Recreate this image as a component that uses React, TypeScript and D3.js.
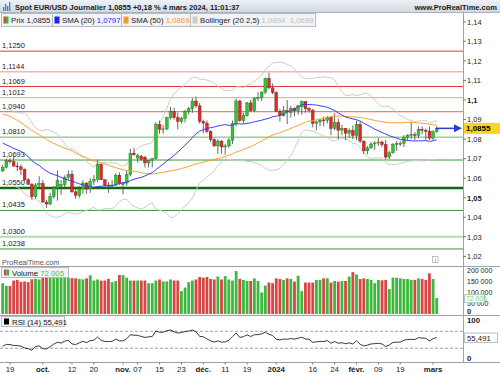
import React, { useEffect, useRef } from "react";
import * as d3 from "d3";

// closes before the first visible candle (needed for SMA / Bollinger / RSI)
const priorCloses = [
  1.0970, 1.1010, 1.1130, 1.1225, 1.1230, 1.1235, 1.1225, 1.1200, 1.1130, 1.1125,
  1.1065, 1.1055, 1.1085, 1.0975, 1.1015, 1.0995, 1.0985, 1.0935, 1.0945, 1.1005,
  1.1000, 1.0955, 1.0975, 1.0980, 1.0945, 1.0905, 1.0905, 1.0875, 1.0870, 1.0870,
  1.0895, 1.0845, 1.0860, 1.0810, 1.0795, 1.0815, 1.0880, 1.0925, 1.0845, 1.0775,
  1.0795, 1.0720, 1.0725, 1.0695, 1.0700, 1.0750, 1.0755, 1.0730, 1.0640,
];

const opens = [
  1.0637, 1.0656, 1.0690, 1.0684, 1.0662, 1.0658, 1.0645, 1.0592, 1.0568, 1.0505,
  1.0565, 1.0573, 1.0478, 1.0468, 1.0505, 1.0550, 1.0560, 1.0567, 1.0605, 1.0620,
  1.0530, 1.0512, 1.0545, 1.0575, 1.0545, 1.0585, 1.0594, 1.0670, 1.0592, 1.0565,
  1.0560, 1.0565, 1.0615, 1.0568, 1.0575, 1.0620, 1.0728, 1.0703, 1.0712, 1.0707,
  1.0678, 1.0692, 1.0700, 1.0875, 1.0850, 1.0852, 1.0910, 1.0940, 1.0910, 1.0890,
  1.0905, 1.0940, 1.0955, 1.0995, 1.0970, 1.0890, 1.0882, 1.0840, 1.0797, 1.0765,
  1.0790, 1.0760, 1.0765, 1.0795, 1.0880, 1.0995, 1.0895, 1.0920, 1.0985, 1.0945,
  1.1008, 1.1012, 1.1040, 1.1110, 1.1062, 1.1038, 1.0942, 1.0920, 1.0945, 1.0935,
  1.0958, 1.0945, 1.0965, 1.0992, 1.0955, 1.0948, 1.0880, 1.0888, 1.0898, 1.0895,
  1.0912, 1.0855, 1.0885, 1.0845, 1.0855, 1.0830, 1.0845, 1.0818, 1.0875, 1.0790,
  1.0740, 1.0755, 1.0775, 1.0780, 1.0785, 1.0772, 1.0708, 1.0730, 1.0772, 1.0777,
  1.0778, 1.0808, 1.0820, 1.0823, 1.0820, 1.0850, 1.0845, 1.0840, 1.0805, 1.0838,
];
const highs = [
  1.0668, 1.0700, 1.0700, 1.0712, 1.0682, 1.0670, 1.0650, 1.0600, 1.0575, 1.0575,
  1.0610, 1.0590, 1.0490, 1.0525, 1.0560, 1.0640, 1.0590, 1.0615, 1.0640, 1.0640,
  1.0545, 1.0560, 1.0590, 1.0580, 1.0600, 1.0615, 1.0695, 1.0675, 1.0595, 1.0580,
  1.0590, 1.0625, 1.0630, 1.0580, 1.0640, 1.0750, 1.0755, 1.0725, 1.0720, 1.0715,
  1.0695, 1.0705, 1.0887, 1.0895, 1.0872, 1.0915, 1.0965, 1.0960, 1.0935, 1.0915,
  1.0950, 1.0965, 1.1010, 1.1017, 1.0985, 1.0900, 1.0895, 1.0845, 1.0805, 1.0800,
  1.0795, 1.0775, 1.0805, 1.0895, 1.1008, 1.1000, 1.0935, 1.0990, 1.1000, 1.1015,
  1.1040, 1.1045, 1.1115, 1.1139, 1.1085, 1.1045, 1.0955, 1.0970, 1.1000, 1.0970,
  1.0962, 1.0975, 1.0998, 1.0995, 1.0965, 1.0955, 1.0895, 1.0905, 1.0915, 1.0918,
  1.0915, 1.0932, 1.0905, 1.0872, 1.0857, 1.0855, 1.0870, 1.0895, 1.0890, 1.0792,
  1.0765, 1.0785, 1.0790, 1.0805, 1.0793, 1.0795, 1.0740, 1.0780, 1.0790, 1.0790,
  1.0820, 1.0825, 1.0888, 1.0836, 1.0865, 1.0865, 1.0855, 1.0865, 1.0845, 1.0865,
];
const lows = [
  1.0632, 1.0650, 1.0675, 1.0660, 1.0635, 1.0615, 1.0585, 1.0565, 1.0490, 1.0495,
  1.0550, 1.0475, 1.0448, 1.0462, 1.0495, 1.0485, 1.0515, 1.0555, 1.0590, 1.0525,
  1.0495, 1.0500, 1.0520, 1.0520, 1.0525, 1.0565, 1.0580, 1.0590, 1.0550, 1.0525,
  1.0545, 1.0560, 1.0565, 1.0517, 1.0560, 1.0610, 1.0715, 1.0680, 1.0690, 1.0655,
  1.0655, 1.0655, 1.0695, 1.0827, 1.0828, 1.0845, 1.0900, 1.0900, 1.0850, 1.0880,
  1.0885, 1.0925, 1.0935, 1.0960, 1.0880, 1.0830, 1.0830, 1.0785, 1.0760, 1.0725,
  1.0725, 1.0720, 1.0755, 1.0775, 1.0865, 1.0888, 1.0880, 1.0915, 1.0940, 1.0938,
  1.0995, 1.0995, 1.1030, 1.1055, 1.1030, 1.0940, 1.0890, 1.0915, 1.0877, 1.0910,
  1.0917, 1.0925, 1.0925, 1.0935, 1.0935, 1.0860, 1.0845, 1.0865, 1.0865, 1.0880,
  1.0820, 1.0845, 1.0800, 1.0820, 1.0795, 1.0805, 1.0800, 1.0795, 1.0780, 1.0723,
  1.0722, 1.0750, 1.0745, 1.0765, 1.0760, 1.0695, 1.0697, 1.0725, 1.0740, 1.0765,
  1.0760, 1.0793, 1.0800, 1.0795, 1.0805, 1.0825, 1.0795, 1.0795, 1.0795, 1.0832,
];
const closes = [
  1.0656, 1.0690, 1.0684, 1.0662, 1.0658, 1.0645, 1.0592, 1.0568, 1.0505, 1.0565,
  1.0573, 1.0478, 1.0468, 1.0505, 1.0550, 1.0588, 1.0567, 1.0605, 1.0620, 1.0530,
  1.0512, 1.0545, 1.0575, 1.0545, 1.0585, 1.0594, 1.0670, 1.0592, 1.0565, 1.0560,
  1.0565, 1.0615, 1.0575, 1.0575, 1.0620, 1.0728, 1.0720, 1.0716, 1.0696, 1.0678,
  1.0692, 1.0700, 1.0875, 1.0850, 1.0852, 1.0910, 1.0940, 1.0910, 1.0890, 1.0905,
  1.0940, 1.0955, 1.0995, 1.0970, 1.0890, 1.0882, 1.0840, 1.0797, 1.0765, 1.0790,
  1.0760, 1.0765, 1.0795, 1.0880, 1.0995, 1.0895, 1.0920, 1.0985, 1.0945, 1.1008,
  1.1012, 1.1040, 1.1110, 1.1062, 1.1038, 1.0942, 1.0920, 1.0945, 1.0940, 1.0958,
  1.0945, 1.0970, 1.0992, 1.0955, 1.0948, 1.0880, 1.0888, 1.0898, 1.0895, 1.0912,
  1.0855, 1.0885, 1.0845, 1.0855, 1.0830, 1.0845, 1.0818, 1.0875, 1.0790, 1.0740,
  1.0755, 1.0775, 1.0780, 1.0785, 1.0772, 1.0708, 1.0730, 1.0772, 1.0777, 1.0778,
  1.0808, 1.0820, 1.0823, 1.0820, 1.0850, 1.0845, 1.0840, 1.0805, 1.0838, 1.0855,
];
const volumes = [
  140000, 128000, 128000, 152000, 155000, 146000, 148000, 145000, 158000, 160000,
  157000, 165000, 165000, 164000, 165000, 170000, 165000, 165000, 165000, 163000,
  162000, 160000, 157000, 162000, 176000, 152000, 157000, 152000, 152000, 160000,
  145000, 150000, 177000, 177000, 165000, 152000, 152000, 152000, 152000, 152000,
  140000, 140000, 152000, 157000, 148000, 148000, 157000, 152000, 152000, 104000,
  120000, 145000, 152000, 157000, 168000, 165000, 168000, 160000, 157000, 170000,
  157000, 172000, 157000, 152000, 195000, 160000, 155000, 150000, 150000, 162000,
  150000, 98000, 129000, 143000, 140000, 162000, 159000, 155000, 162000, 159000,
  147000, 174000, 104000, 143000, 143000, 143000, 155000, 155000, 162000, 162000,
  143000, 150000, 147000, 150000, 150000, 170000, 190000, 180000, 159000, 162000,
  159000, 155000, 140000, 155000, 153000, 155000, 113000, 165000, 165000, 162000,
  159000, 159000, 155000, 155000, 162000, 159000, 155000, 185000, 159000, 72005,
];

const dateTicks = [
  { i: 2, label: "19", bold: false }, { i: 11, label: "oct.", bold: true },
  { i: 19, label: "12", bold: false }, { i: 25, label: "20", bold: false },
  { i: 33, label: "nov.", bold: true }, { i: 37, label: "07", bold: false },
  { i: 43, label: "15", bold: false }, { i: 49, label: "23", bold: false },
  { i: 55, label: "déc.", bold: true }, { i: 61, label: "11", bold: false },
  { i: 67, label: "19", bold: false }, { i: 75, label: "2024", bold: true },
  { i: 85, label: "16", bold: false }, { i: 91, label: "24", bold: false },
  { i: 97, label: "févr.", bold: true }, { i: 103, label: "09", bold: false },
  { i: 109, label: "19", bold: false }, { i: 118, label: "mars", bold: true },
];

const levels = [
  { v: 1.125, label: "1,1250", color: "#e8383c", w: 1 },
  { v: 1.1144, label: "1,1144", color: "#f08c8c", w: 1 },
  { v: 1.1069, label: "1,1069", color: "#e8383c", w: 1 },
  { v: 1.1012, label: "1,1012", color: "#f29c9c", w: 1 },
  { v: 1.094, label: "1,0940", color: "#ec5a5a", w: 1 },
  { v: 1.081, label: "1,0810", color: "#6ab46a", w: 1 },
  { v: 1.0693, label: "1,0693", color: "#3a983a", w: 1 },
  { v: 1.055, label: "1,0550", color: "#0b6b0b", w: 2.5 },
  { v: 1.0435, label: "1,0435", color: "#3a983a", w: 1 },
  { v: 1.03, label: "1,0300", color: "#b0dcb0", w: 2 },
  { v: 1.0238, label: "1,0238", color: "#3a983a", w: 1 },
];

const priceTicks = [1.02, 1.03, 1.04, 1.05, 1.06, 1.07, 1.08, 1.09, 1.1, 1.11, 1.12, 1.13, 1.14];
const volumeTicks = [50000, 100000, 150000, 200000];

const FONT = "'Liberation Sans', Arial, sans-serif";
const GREEN = "#3cb83c";
const RED = "#d94545";

function sma(all: number[], n: number, idx: number) {
  return d3.mean(all.slice(idx - n + 1, idx + 1)) as number;
}

function rsiSeries(cl: number[], n: number) {
  const out = cl.map(() => NaN);
  let g = 0, l = 0;
  for (let k = 1; k <= n; k++) {
    const d = cl[k] - cl[k - 1];
    if (d > 0) g += d; else l -= d;
  }
  g /= n; l /= n;
  out[n] = 100 - 100 / (1 + g / l);
  for (let k = n + 1; k < cl.length; k++) {
    const d = cl[k] - cl[k - 1];
    g = (g * (n - 1) + Math.max(d, 0)) / n;
    l = (l * (n - 1) + Math.max(-d, 0)) / n;
    out[k] = 100 - 100 / (1 + g / l);
  }
  return out;
}

export default function App() {
  const ref = useRef<SVGSVGElement>(null);

  useEffect(() => {
    const svg = d3.select(ref.current);
    svg.selectAll("*").remove();
    const plotRight = 463;

    const x = d3.scaleLinear().domain([-0.74, 126.2]).range([0, plotRight]);
    const yP = d3.scaleLinear().domain([1.02, 1.14]).range([256.4, 21.8]);
    const yV = d3.scaleLinear().domain([0, 200000]).range([314, 270]);
    const yR = d3.scaleLinear().domain([0, 100]).range([361, 318.6]);
    const fmt = (v: number) => d3.format(".2~f")(v).replace(".", ",");

    const candles = closes.map((c, i) => ({ i, o: opens[i], h: highs[i], l: lows[i], c, v: volumes[i] }));
    const all = priorCloses.concat(closes);
    const off = priorCloses.length;
    const ind = candles.map(d => {
      const idx = d.i + off;
      const m20 = sma(all, 20, idx);
      const win = all.slice(idx - 19, idx + 1);
      const sd = Math.sqrt(d3.mean(win, v => (v - m20) * (v - m20)) as number);
      return { i: d.i, m20, m50: sma(all, 50, idx), up: m20 + 2.5 * sd, lo: m20 - 2.5 * sd };
    });
    const rsiAll = rsiSeries(all, 14);
    const rsi = candles.map(d => ({ i: d.i, r: rsiAll[d.i + off] }));

    svg.append("rect").attr("width", 500).attr("height", 375).attr("fill", "#fff");

    // title bar
    const grad = svg.append("defs").append("linearGradient").attr("id", "tg")
      .attr("x1", 0).attr("y1", 0).attr("x2", 0).attr("y2", 1);
    grad.append("stop").attr("offset", 0).attr("stop-color", "#eef2f6");
    grad.append("stop").attr("offset", 1).attr("stop-color", "#cfd8e1");
    svg.select("defs").append("clipPath").attr("id", "pc")
      .append("rect").attr("x", 0).attr("y", 12.5).attr("width", plotRight).attr("height", 254);
    svg.append("rect").attr("width", 500).attr("height", 12.5).attr("fill", "url(#tg)");
    svg.append("line").attr("x1", 0).attr("x2", 500).attr("y1", 12.5).attr("y2", 12.5).attr("stroke", "#aab3bd");
    [[3, 7, 4], [5, 4, 7], [7, 6, 5], [9, 2, 9]].forEach(([bx, by, bh]) => {
      svg.append("rect").attr("x", bx).attr("y", by).attr("width", 1.3).attr("height", bh).attr("fill", "#3a7fd8");
    });
    svg.append("text").attr("x", 15).attr("y", 9.5).attr("font-family", FONT).attr("font-size", 7.5)
      .attr("font-weight", "bold").attr("fill", "#1a1a1a")
      .text("Spot EUR/USD Journalier 1,0855 +0,18 % 4 mars 2024, 11:01:37");
    svg.append("text").attr("x", 497).attr("y", 9.5).attr("text-anchor", "end").attr("font-family", FONT)
      .attr("font-size", 7.5).attr("font-weight", "bold").attr("fill", "#1a1a1a").text("www.ProRealTime.com");

    // price panel
    const pg = svg.append("g").attr("clip-path", "url(#pc)");
    levels.forEach(lv => {
      pg.append("line").attr("x1", 0).attr("x2", plotRight).attr("y1", yP(lv.v)).attr("y2", yP(lv.v))
        .attr("stroke", lv.color).attr("stroke-width", lv.w);
      pg.append("text").attr("x", 2).attr("y", yP(lv.v) - 3).attr("font-family", FONT).attr("font-size", 7.5)
        .attr("fill", "#222").text(lv.label);
    });

    const line = (acc: (d: any) => number) => d3.line<any>().x(d => x(d.i)).y(d => yP(acc(d)));
    pg.append("path").datum(ind).attr("d", line(d => d.up)).attr("fill", "none").attr("stroke", "#cccccc");
    pg.append("path").datum(ind).attr("d", line(d => d.lo)).attr("fill", "none").attr("stroke", "#cccccc");

    pg.selectAll(".wick").data(candles).join("line").attr("class", "wick")
      .attr("x1", d => x(d.i)).attr("x2", d => x(d.i))
      .attr("y1", d => yP(d.h)).attr("y2", d => yP(d.l))
      .attr("stroke", "#555").attr("stroke-width", 0.9);
    pg.selectAll(".body").data(candles).join("rect").attr("class", "body")
      .attr("x", d => x(d.i) - 1.4).attr("width", 2.8)
      .attr("y", d => yP(Math.max(d.o, d.c)))
      .attr("height", d => Math.max(0.8, Math.abs(yP(d.o) - yP(d.c))))
      .attr("fill", d => (d.c >= d.o ? "#33c433" : "#e02a2a"))
      .attr("stroke", d => (d.c >= d.o ? "#1d6e1d" : "#7a1515")).attr("stroke-width", 0.4);

    pg.append("path").datum(ind).attr("d", line(d => d.m50)).attr("fill", "none").attr("stroke", "#f5a332");
    pg.append("path").datum(ind).attr("d", line(d => d.m20)).attr("fill", "none").attr("stroke", "#3d3df2");

    // current price arrow
    const yc = yP(closes[closes.length - 1]);
    svg.append("line").attr("x1", 436).attr("x2", 455).attr("y1", yc).attr("y2", yc)
      .attr("stroke", "#2b3bd6").attr("stroke-width", 1.5);
    svg.append("path").attr("d", `M454,${yc - 4}L462,${yc}L454,${yc + 4}Z`).attr("fill", "#2b3bd6");

    // legend row
    const legend = [
      { x0: 1, x1: 52, parts: [["Prix ", "#222"], ["1,0855", "#222"]], sw: ["#d94545", GREEN] },
      { x0: 52, x1: 121, parts: [["SMA (20) ", "#222"], ["1,0797", "#2a2af0"]], sw: ["#2020ee"] },
      { x0: 121, x1: 190, parts: [["SMA (50) ", "#222"], ["1,0869", "#f59a22"]], sw: ["#f59a22"] },
      { x0: 190, x1: 315, parts: [["Bollinger (20 2,5) ", "#222"], ["1,0894  1,0699", "#bdbdbd"]], sw: ["#cccccc"] },
    ];
    legend.forEach(lg => {
      svg.append("rect").attr("x", lg.x0 + 0.5).attr("y", 13.5).attr("width", lg.x1 - lg.x0).attr("height", 13)
        .attr("fill", "#f1f3f5").attr("stroke", "#b4bcc4");
      lg.sw.forEach((c, k) => {
        svg.append("rect").attr("x", lg.x0 + 2.5 + k * 2.5).attr("y", 16.5).attr("width", lg.sw.length > 1 ? 2.5 : 5)
          .attr("height", 7).attr("fill", c);
      });
      const t = svg.append("text").attr("x", lg.x0 + 10).attr("y", 23).attr("font-family", FONT).attr("font-size", 7.8);
      lg.parts.forEach(([s, c]) => t.append("tspan").attr("fill", c).attr("xml:space", "preserve").text(s));
    });

    // right axis
    svg.append("line").attr("x1", plotRight + 0.5).attr("x2", plotRight + 0.5).attr("y1", 12.5).attr("y2", 362.5)
      .attr("stroke", "#9aa3ac");
    priceTicks.forEach(v => {
      const b = Math.abs((v * 100) % 5) < 0.01 || Math.abs((v * 100) % 5 - 5) < 0.01;
      svg.append("line").attr("x1", plotRight).attr("x2", plotRight + 3).attr("y1", yP(v)).attr("y2", yP(v)).attr("stroke", "#777");
      svg.append("text").attr("x", 467).attr("y", yP(v) + 2.8).attr("font-family", FONT).attr("font-size", 7.5)
        .attr("font-weight", b ? "bold" : "normal").attr("fill", "#222").text(fmt(v));
    });
    svg.append("rect").attr("x", 464).attr("y", yc - 5.5).attr("width", 36).attr("height", 11).attr("fill", "#ffd21f");
    svg.append("text").attr("x", 466).attr("y", yc + 3).attr("font-family", FONT).attr("font-size", 8)
      .attr("font-weight", "bold").attr("fill", "#000").text("1,0855");

    svg.append("text").attr("x", 2).attr("y", 264.5).attr("font-family", FONT).attr("font-size", 7.2)
      .attr("fill", "#555").text("ProRealTime.com");
    svg.append("rect").attr("x", 432.5).attr("y", 256.5).attr("width", 5.5).attr("height", 6).attr("fill", "#fff").attr("stroke", "#999").attr("stroke-width", 0.6);
    svg.append("text").attr("x", 435.2).attr("y", 261.7).attr("text-anchor", "middle").attr("font-family", FONT)
      .attr("font-size", 5).attr("fill", "#666").text("i");

    // panel separators
    [266.5, 315.5, 362.5].forEach(yy => {
      svg.append("line").attr("x1", 0).attr("x2", 500).attr("y1", yy).attr("y2", yy).attr("stroke", "#9aa3ac");
    });

    // volume panel
    svg.selectAll(".vol").data(candles).join("rect").attr("class", "vol")
      .attr("x", d => x(d.i) - 1.4).attr("width", 2.8)
      .attr("y", d => yV(d.v)).attr("height", d => yV(0) - yV(d.v))
      .attr("fill", d => (d.c >= d.o ? GREEN : RED));
    svg.append("rect").attr("x", 1.5).attr("y", 267.5).attr("width", 67).attr("height", 10)
      .attr("fill", "#f1f3f5").attr("stroke", "#b4bcc4");
    svg.append("rect").attr("x", 4).attr("y", 269.5).attr("width", 2.5).attr("height", 6).attr("fill", RED);
    svg.append("rect").attr("x", 6.5).attr("y", 269.5).attr("width", 2.5).attr("height", 6).attr("fill", GREEN);
    const vt = svg.append("text").attr("x", 12).attr("y", 275.5).attr("font-family", FONT).attr("font-size", 7.8);
    vt.append("tspan").attr("fill", "#222").text("Volume ");
    vt.append("tspan").attr("fill", "#4cc24c").text("72 005");
    volumeTicks.forEach(v => {
      svg.append("text").attr("x", 467).attr("y", yV(v) + 2.5).attr("font-family", FONT).attr("font-size", 7)
        .attr("fill", "#222").text(d3.format(",")(v).replace(/,/g, " "));
    });
    svg.append("text").attr("x", 467).attr("y", 313.5).attr("font-family", FONT).attr("font-size", 7.5)
      .attr("font-weight", "bold").attr("fill", "#222").text("0");
    svg.append("rect").attr("x", 464.5).attr("y", yV(72005) - 3.5).attr("width", 20).attr("height", 8)
      .attr("fill", "#fff").attr("stroke", "#b8c0c8");
    svg.append("text").attr("x", 466).attr("y", yV(72005) + 2.8).attr("font-family", FONT).attr("font-size", 6.8)
      .attr("fill", "#6cd06c").text("72 005");

    // RSI panel
    [70, 30].forEach(v => {
      svg.append("line").attr("x1", 0).attr("x2", plotRight).attr("y1", yR(v)).attr("y2", yR(v))
        .attr("stroke", "#8a8a8a").attr("stroke-dasharray", "3,2").attr("stroke-width", 0.8);
    });
    svg.append("path").datum(rsi)
      .attr("d", d3.line<any>().x(d => x(d.i)).y(d => yR(d.r)))
      .attr("fill", "none").attr("stroke", "#222").attr("stroke-width", 0.9);
    svg.append("rect").attr("x", 1.5).attr("y", 316.5).attr("width", 63).attr("height", 10)
      .attr("fill", "#f1f3f5").attr("stroke", "#b4bcc4");
    svg.append("rect").attr("x", 4).attr("y", 318.5).attr("width", 5).attr("height", 6).attr("fill", "#000");
    svg.append("text").attr("x", 12).attr("y", 324.5).attr("font-family", FONT).attr("font-size", 7.8)
      .attr("fill", "#222").text("RSI (14) 55,491");
    svg.append("text").attr("x", 467).attr("y", 323).attr("font-family", FONT).attr("font-size", 7.8)
      .attr("font-weight", "bold").attr("fill", "#222").text("100");
    svg.append("text").attr("x", 467).attr("y", 360.5).attr("font-family", FONT).attr("font-size", 7.8)
      .attr("font-weight", "bold").attr("fill", "#222").text("0");
    svg.append("rect").attr("x", 464.5).attr("y", 333).attr("width", 33).attr("height", 9.5)
      .attr("fill", "#fff").attr("stroke", "#b8c0c8");
    svg.append("text").attr("x", 467).attr("y", 340.5).attr("font-family", FONT).attr("font-size", 7.8)
      .attr("fill", "#222").text("55,491");

    // date axis
    dateTicks.forEach(t => {
      svg.append("line").attr("x1", x(t.i)).attr("x2", x(t.i)).attr("y1", 362.5).attr("y2", 364.5).attr("stroke", "#777");
      svg.append("text").attr("x", x(t.i)).attr("y", 371.5).attr("text-anchor", "middle").attr("font-family", FONT)
        .attr("font-size", 7.8).attr("font-weight", t.bold ? "bold" : "normal").attr("fill", "#222").text(t.label);
    });
  }, []);

  return (
    <svg ref={ref} width={500} height={375}
      style={{ position: "absolute", left: 0, top: 0, display: "block" }} />
  );
}
